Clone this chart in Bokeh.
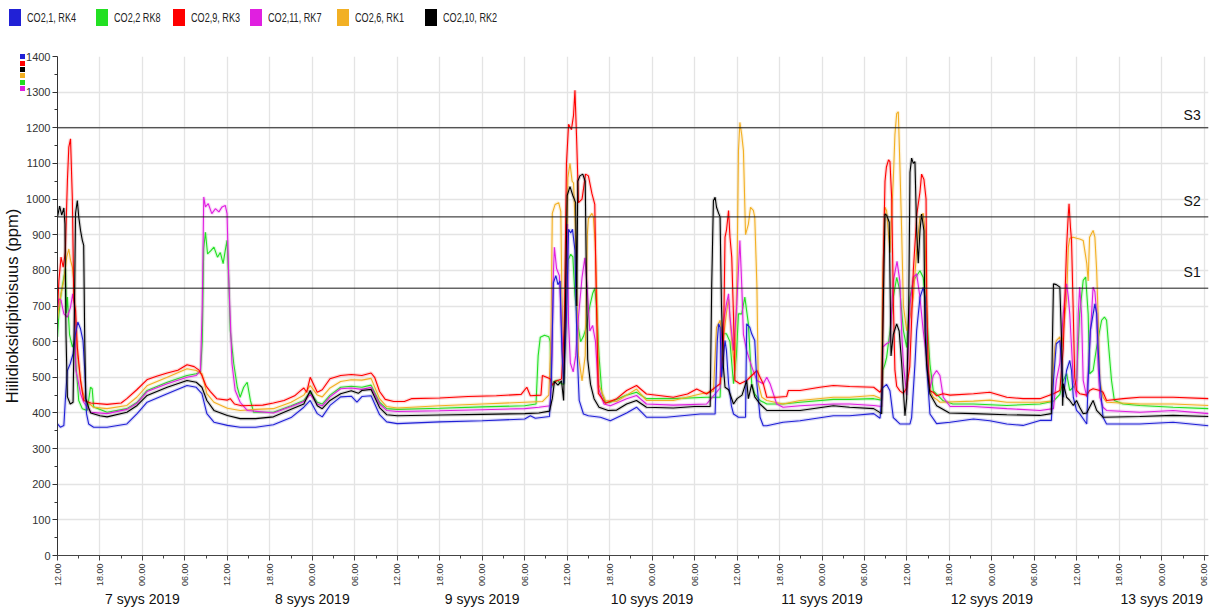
import math
from bokeh.plotting import figure
from bokeh.models import Range1d, FixedTicker, Span, Label, LinearAxis, Div
from bokeh.layouts import column
from bokeh.embed import file_html
from bokeh.resources import INLINE

# ---------------- data (hours from 7 Sep 2019 00:00, CO2 ppm) ----------------
series_names = ["CO2,1, RK4", "CO2,2 RK8", "CO2,9, RK3", "CO2,11, RK7", "CO2,6, RK1", "CO2,10, RK2"]
series_colors = ["#2121d6", "#22e022", "#ff0000", "#e01fe0", "#f2b024", "#000000"]

co2_1_rk4 = [(-12, 369), (-11.6, 360), (-11.1, 365), (-10.87, 444), (-10.6, 519), (-10.2, 538), (-9.8, 566), (-9.46, 622),
             (-9.13, 655), (-8.75, 636), (-8.4, 603), (-8.15, 520), (-7.9, 398), (-7.6, 369), (-6.9, 360), (-5, 360),
             (-2.2, 369), (-0.75, 398), (0.66, 430), (3.5, 454), (6.3, 477), (7.6, 472), (8.4, 454), (9.1, 398),
             (10.1, 374), (12, 365), (13.8, 360), (16, 360), (18.5, 367), (21, 387),
             (22.8, 416), (23.7, 435), (24.7, 398), (25.4, 389), (26.5, 421), (28, 445), (29.5, 447), (30.3, 430),
             (31, 446), (32.3, 448), (33.5, 395), (34.5, 375), (36, 370),
             (42, 375), (48, 378), (54, 383), (54.8, 392), (55.5, 385), (57.5, 390),
             (57.75, 480), (58.05, 765), (58.4, 785), (58.7, 760), (59.0, 770), (59.25, 575), (59.5, 482), (59.9, 670),
             (60.2, 915), (60.5, 905), (60.75, 915), (61.1, 856), (61.4, 575), (61.7, 435), (62.3, 397), (63, 392),
             (64.7, 388), (66.1, 378),
             (68.4, 400), (69.8, 416), (71.2, 388), (74, 388), (78.8, 397), (80.9, 397),
             (81.2, 600), (81.4, 650), (81.6, 640), (81.8, 500), (82.1, 560), (82.3, 603), (82.5, 575), (82.8, 482),
             (83.2, 420), (83.5, 397), (84.2, 388), (85.2, 388), (85.36, 650), (85.8, 640), (86.07, 622), (86.5, 603),
             (86.8, 482), (87.25, 388), (87.7, 364), (88.2, 364), (90.5, 374), (92.9, 378), (97.6, 392), (99.9, 392),
             (103.3, 398), (104.2, 385), (104.55, 470), (105.13, 480), (105.6, 462), (106.07, 387), (106.55, 378),
             (107.0, 369), (108.43, 369), (108.66, 387), (109.13, 537), (109.37, 631), (109.84, 724), (110.3, 752),
             (110.55, 724), (110.78, 537), (111.25, 397), (112.19, 370), (114.1, 374), (117.4, 383), (119.7, 378),
             (122.1, 369), (124.4, 365), (126.8, 379), (128.4, 379),
             (128.7, 491), (129.1, 594), (129.6, 603), (129.85, 538), (130.08, 444), (130.55, 519), (131.0, 547),
             (131.25, 519), (131.5, 444), (131.96, 407), (132.4, 398), (133.4, 369), (133.6, 491), (133.9, 631),
             (134.55, 706), (134.8, 678), (135.0, 585), (135.25, 491), (135.7, 388), (136.2, 369), (140.9, 369),
             (145.6, 374), (150.6, 364)]

co2_2_rk8 = [(-12, 613), (-11.8, 678), (-11.5, 734), (-11.1, 781), (-10.87, 805), (-10.75, 680), (-10.6, 725), (-10.3, 620),
             (-9.9, 585), (-9.6, 600), (-9.4, 538), (-9.0, 435), (-8.5, 412), (-7.8, 407), (-7.34, 472), (-7.1, 468),
             (-6.9, 417), (-5, 402),
             (-2.2, 412), (-0.75, 430), (0.66, 463), (3.5, 486), (6.3, 505), (7.6, 510), (8.2, 515), (8.45, 600),
             (8.65, 860), (8.9, 907), (9.2, 846), (9.7, 856), (10.1, 865), (10.6, 837), (11.0, 850), (11.4, 819),
             (11.7, 856), (11.95, 884), (12.2, 772), (12.4, 632), (12.9, 538), (13.4, 472), (13.8, 444), (14.3, 472),
             (14.8, 486), (15.25, 435), (15.7, 402), (18.5, 402), (21, 420),
             (22.8, 435), (23.7, 458), (24.7, 430), (25.4, 425), (26.5, 450), (28, 472), (29.5, 475), (31, 472),
             (32.3, 478), (33.5, 430), (34.5, 412), (36, 410),
             (42, 413), (48, 417), (54, 420), (55.6, 425),
             (55.9, 560), (56.2, 612), (56.8, 618), (57.4, 614), (57.6, 600), (57.75, 470), (58.1, 488), (58.6, 492),
             (59.0, 484), (59.5, 480), (59.8, 650), (60.15, 830), (60.5, 845), (60.8, 838), (61.1, 730), (61.5, 650),
             (61.9, 600), (62.3, 615), (62.7, 640), (63.2, 700), (63.6, 735), (63.9, 750), (64.15, 700), (64.5, 560),
             (64.9, 455), (65.4, 430), (66.1, 430),
             (68.4, 450), (69.8, 458), (71.2, 440), (75, 440), (79.7, 444),
             (81.6, 444), (81.9, 600), (82.07, 622), (82.5, 622), (83.0, 600), (83.5, 482), (83.9, 560), (84.2, 678),
             (84.66, 678), (85.1, 725), (85.6, 650), (86.07, 482), (86.5, 453), (87.25, 435), (88.2, 425), (90.5, 425),
             (92.9, 430), (97.6, 438), (99.9, 438),
             (103.3, 440), (104.43, 436), (104.6, 520), (104.9, 537), (105.13, 556), (105.6, 630), (106.07, 724),
             (106.55, 780), (107.0, 743), (107.5, 631), (107.96, 584), (108.43, 724), (108.9, 771), (109.84, 799),
             (110.3, 780), (110.78, 677), (111.25, 537), (111.72, 462), (113.13, 434), (114.5, 425), (117.4, 425),
             (122.1, 421), (126.8, 425),
             (128.7, 433), (129.6, 452), (130.08, 491), (130.55, 510), (131.0, 463), (131.5, 472), (131.96, 491),
             (132.4, 678), (132.9, 772), (133.25, 781), (133.6, 678), (133.8, 510), (134.3, 519), (134.8, 585),
             (135.5, 660), (135.9, 669), (136.2, 660), (136.5, 585), (136.9, 491), (137.3, 435), (138.55, 425),
             (140.9, 421), (145.6, 416), (150.6, 412)]

co2_9_rk3 = [(-12, 688), (-11.8, 772), (-11.5, 837), (-11.2, 809), (-10.9, 850), (-10.6, 1052), (-10.4, 1146),
             (-10.16, 1169), (-9.9, 1000), (-9.7, 716), (-9.45, 688), (-9.2, 585), (-8.75, 491), (-8.3, 435),
             (-7.3, 428), (-5, 424),
             (-3, 428), (-2.2, 440), (-0.8, 465), (0.7, 494), (2, 503), (3.5, 512), (5, 520), (6.3, 535), (7.3, 530),
             (8, 520), (8.4, 505), (9.0, 475), (9.6, 460), (10.5, 440), (12.0, 436), (12.4, 440), (13, 425), (14, 420),
             (17, 422), (18.5, 428), (20, 435), (21.5, 448),
             (22.3, 462), (22.8, 470), (23.2, 458), (23.7, 500), (24.7, 458), (25.4, 465), (26.5, 496), (28, 505),
             (29.5, 508), (31, 505), (32.3, 512), (32.8, 500), (33.5, 460), (34.3, 438), (35.5, 432), (37, 432),
             (38, 440),
             (42, 442), (46, 446), (50, 448), (53.5, 452), (54.3, 472), (54.8, 448), (56.3, 450),
             (56.5, 505), (57.6, 496), (57.9, 478), (58.3, 488), (59.2, 495), (59.6, 640), (59.9, 1100), (60.2, 1210),
             (60.6, 1195), (60.9, 1235), (61.1, 1305), (61.35, 1160), (61.6, 990), (62.1, 1000), (62.6, 1070),
             (63.0, 1065), (63.5, 1015), (63.9, 985), (64.1, 740), (64.4, 455), (65.4, 427), (67.0, 440),
             (68.4, 463), (69.8, 477), (71.2, 453), (75, 444), (77, 453), (78.3, 467), (79.7, 453),
             (81.6, 482), (82.07, 575), (82.3, 893), (82.5, 912), (82.8, 968), (83.0, 893), (83.25, 837), (83.5, 670),
             (83.7, 491), (84.4, 482), (85.36, 491), (86.8, 519), (87.25, 500), (87.7, 482), (88.2, 444), (89.6, 444),
             (91.0, 446), (91.25, 463), (92.9, 463), (95.7, 472), (97.6, 477), (99.9, 474),
             (103.3, 472), (104.2, 458), (104.5, 470), (104.66, 820), (104.9, 1050), (105.1, 1090), (105.4, 1110),
             (105.6, 1105), (105.85, 1000), (106.07, 720), (106.3, 520), (106.55, 475), (107.0, 462), (107.5, 455),
             (107.96, 470), (108.4, 530), (108.66, 660), (108.9, 800), (109.4, 958), (109.84, 1020), (110.07, 1070),
             (110.4, 1055), (110.7, 1000), (110.8, 720), (111.0, 520), (111.25, 462), (111.7, 458), (112.2, 448),
             (113.1, 454), (114.1, 450), (117.4, 454), (119.7, 458), (122.1, 444), (124.4, 440), (126.8, 440),
             (128.7, 454), (129.6, 463), (130.08, 580), (130.55, 865), (130.8, 959), (130.9, 987), (131.1, 920),
             (131.25, 884), (131.5, 678), (131.7, 500), (131.96, 463), (132.4, 454), (133.4, 450), (133.8, 463),
             (134.3, 468), (135.25, 463), (135.7, 458), (136.2, 435), (138.55, 440), (140.9, 444), (145.6, 444),
             (150.6, 440)]

co2_11_rk7 = [(-12, 697), (-11.8, 720), (-11.5, 716), (-11.1, 678), (-10.6, 669), (-10.16, 697), (-9.85, 734),
              (-9.6, 700), (-9.4, 519), (-9.1, 491), (-8.75, 454), (-8.3, 430), (-7.3, 402), (-5, 398),
              (-2.2, 410), (-0.75, 428), (0.66, 460), (3.5, 482), (6.3, 500), (7.6, 505), (8.2, 519), (8.45, 700),
              (8.66, 1006), (8.9, 978), (9.3, 987), (9.8, 959), (10.3, 973), (10.8, 964), (11.25, 978), (11.7, 982),
              (11.95, 959), (12.2, 772), (12.65, 538), (13.1, 463), (13.8, 430), (14.8, 407), (18.5, 400), (21, 418),
              (22.8, 432), (23.7, 452), (24.7, 425), (25.4, 420), (26.5, 445), (28, 468), (29.5, 470), (31, 466),
              (32.3, 472), (33.5, 425), (34.5, 407), (36, 404),
              (42, 406), (48, 409), (54, 412), (56, 416), (57.6, 420),
              (57.85, 560), (58.05, 790), (58.2, 865), (58.5, 805), (58.9, 785), (59.2, 640), (59.55, 520),
              (59.8, 700), (60.0, 930), (60.2, 650), (60.45, 540), (60.85, 515), (61.2, 560), (61.6, 670),
              (62.1, 780), (62.5, 835), (62.8, 760), (63.2, 630), (63.6, 645), (64.0, 600), (64.4, 470), (65.2, 425),
              (66.1, 420),
              (68.4, 440), (69.8, 449), (71.2, 425), (75, 422), (79.7, 425), (81.6, 470),
              (81.8, 622), (82.5, 706), (82.8, 734), (83.0, 670), (83.5, 575), (83.95, 700), (84.4, 884), (84.66, 760),
              (84.9, 620), (85.36, 575), (86.07, 530), (86.8, 491), (87.7, 482), (88.2, 500), (88.66, 482),
              (89.6, 425), (90.5, 416), (92.9, 420), (97.6, 425), (99.9, 425),
              (103.3, 421), (104.43, 418), (104.6, 585), (105.1, 594), (105.6, 600), (106.07, 770), (106.6, 825),
              (107.0, 770), (107.25, 630), (107.5, 537), (107.96, 450), (108.43, 705), (108.9, 780), (109.37, 790),
              (109.84, 724), (110.3, 630), (110.78, 556), (111.25, 470), (111.72, 505), (112.19, 519), (112.66, 505),
              (113.13, 444), (114.1, 418), (117.4, 418), (122.1, 412), (126.8, 407), (128.7, 412),
              (129.1, 491), (129.6, 540), (130.08, 678), (130.55, 762), (130.8, 725), (131.0, 678), (131.25, 585),
              (131.5, 491), (131.96, 444), (132.2, 678), (132.4, 753), (132.66, 678), (132.9, 491), (133.4, 444),
              (133.8, 585), (134.3, 753), (134.55, 740), (134.8, 678), (135.0, 538), (135.25, 444), (135.7, 416),
              (136.2, 407), (140.9, 402), (145.6, 407), (150.6, 398)]

co2_6_rk1 = [(-12, 664), (-11.8, 697), (-11.5, 734), (-11.1, 772), (-10.7, 837), (-10.4, 860), (-10.16, 828),
             (-9.9, 809), (-9.7, 772), (-9.45, 650), (-9.2, 566), (-8.85, 510), (-8.5, 463), (-8.05, 435),
             (-6.9, 416), (-5, 412),
             (-2.2, 421), (-0.8, 444), (0.7, 477), (3.5, 500), (6.3, 524), (7.6, 519), (8.4, 510), (9.1, 454),
             (10.1, 430), (12, 413), (13.8, 407), (16, 410), (18.5, 412), (21, 430),
             (22.8, 450), (23.7, 477), (24.7, 450), (25.4, 445), (26.5, 470), (28, 488), (29.5, 493), (31, 492),
             (32.3, 497), (33.5, 440), (34.5, 418), (36, 414),
             (42, 420), (48, 425), (54, 430), (56.5, 432), (57.4, 450),
             (57.7, 600), (57.9, 960), (58.3, 985), (58.8, 990), (59.1, 965), (59.25, 740), (59.55, 510), (59.8, 700),
             (60.1, 1060), (60.4, 1100), (60.7, 1050), (60.9, 1045), (61.15, 920), (61.6, 560), (62.1, 490),
             (62.55, 560), (62.85, 900), (63.0, 945), (63.5, 960), (63.7, 950), (63.95, 880), (64.2, 720),
             (64.45, 480), (65.4, 435), (67, 432),
             (68.4, 450), (69.8, 467), (71.2, 435), (75, 435), (78.8, 453), (80.66, 460),
             (81.1, 640), (81.6, 660), (82.0, 600), (82.5, 680), (82.8, 720), (83.25, 600), (83.7, 520), (84.0, 800),
             (84.2, 1136), (84.4, 1215), (84.66, 1180), (84.9, 1136), (85.2, 900), (85.6, 930), (85.9, 977),
             (86.3, 968), (86.5, 949), (86.8, 760), (87.0, 482), (87.5, 444), (88.2, 435), (90.5, 425), (92.9, 435),
             (97.6, 444), (99.9, 444),
             (103.3, 449), (104.4, 440), (104.57, 770), (104.9, 977), (105.13, 967), (105.6, 850), (105.84, 960),
             (106.07, 1052), (106.3, 1180), (106.55, 1240), (106.78, 1245), (107.0, 1098), (107.25, 911),
             (107.5, 700), (107.96, 631), (108.43, 668), (108.9, 724), (109.37, 855), (109.84, 950), (110.3, 960),
             (110.55, 911), (110.78, 700), (111.0, 540), (111.25, 463), (111.72, 444), (112.2, 438), (112.67, 430),
             (117.4, 433), (119.7, 436), (122.1, 430), (126.8, 430), (128.4, 433),
             (128.9, 585), (129.1, 603), (129.6, 613), (129.85, 585), (130.08, 630), (130.55, 720), (130.8, 865),
             (131.0, 890), (131.5, 893), (131.96, 890), (132.4, 888), (132.9, 884), (133.4, 820), (133.6, 770),
             (133.8, 893), (134.3, 912), (134.55, 893), (134.8, 800), (135.0, 678), (135.25, 491), (135.7, 444),
             (136.2, 430), (140.9, 425), (145.6, 425), (150.6, 421)]

co2_10_rk2 = [(-12, 950), (-11.7, 980), (-11.4, 955), (-11.1, 975), (-10.95, 930), (-10.8, 620), (-10.6, 445),
              (-10.2, 425), (-9.8, 430), (-9.6, 700), (-9.45, 960), (-9.2, 996), (-9.0, 950), (-8.75, 912),
              (-8.5, 885), (-8.3, 870), (-8.15, 600), (-8.0, 440), (-7.6, 415), (-7.3, 400), (-6, 392), (-5, 389),
              (-2.2, 402), (-0.75, 421), (0.66, 449), (3.5, 472), (6.3, 491), (7.6, 486), (8.4, 472), (9.1, 435),
              (10.1, 407), (12, 393), (13.8, 384), (16, 384), (18.5, 389), (21, 410),
              (22.8, 425), (23.7, 463), (24.7, 420), (25.4, 412), (26.5, 435), (28, 454), (29.5, 462), (30.5, 455),
              (31, 463), (32.3, 466), (33.5, 415), (34.5, 395), (36, 392),
              (42, 394), (48, 396), (54, 398), (56, 400), (57.5, 405),
              (57.9, 440), (58.2, 488), (58.7, 478), (59.2, 490), (59.5, 435), (59.75, 700), (60.0, 1010),
              (60.4, 1035), (60.8, 1010), (61.2, 990), (61.35, 700), (61.5, 1050), (61.8, 1065), (62.2, 1070),
              (62.55, 1050), (62.7, 800), (62.9, 550), (63.3, 480), (63.8, 440), (64.5, 416), (65.8, 407), (67, 408),
              (68.4, 425), (69.8, 435), (71.2, 416), (75, 414), (78, 418), (80.2, 418),
              (80.42, 760), (80.66, 995), (80.9, 1005), (81.1, 977), (81.4, 960), (81.6, 950), (81.8, 700),
              (82.07, 530), (82.3, 472), (82.8, 465), (83.5, 425), (84.0, 440), (84.7, 450), (85.36, 491),
              (85.6, 440), (86.07, 480), (86.5, 445), (87.25, 425), (88.2, 407), (92.9, 407), (97.6, 420), (99.9, 416),
              (103.3, 412), (104.43, 398), (104.57, 603), (104.75, 800), (104.9, 958), (105.13, 955), (105.5, 935),
              (105.75, 560), (106.07, 620), (106.55, 650), (106.9, 630), (107.25, 540), (107.72, 392), (107.96, 440),
              (108.25, 700), (108.43, 1075), (108.66, 1115), (108.9, 1100), (109.13, 1105), (109.37, 911),
              (109.6, 820), (109.84, 911), (110.07, 958), (110.4, 911), (110.55, 630), (110.78, 537), (111.25, 453),
              (112.2, 420), (114, 400), (117.4, 398), (122.1, 395), (126.8, 393), (128.4, 398),
              (128.55, 600), (128.7, 762), (129.1, 760), (129.6, 753), (129.85, 600), (130.0, 420), (130.1, 482),
              (130.55, 444), (131.0, 435), (131.5, 421), (131.96, 435), (132.4, 416), (132.9, 398), (133.4, 400),
              (133.8, 416), (134.3, 435), (134.8, 407), (135.7, 388), (140.9, 390), (145.6, 393), (150.6, 390)]

series_data = [co2_1_rk4, co2_2_rk8, co2_9_rk3, co2_11_rk7, co2_6_rk1, co2_10_rk2]
draw_order = [1, 4, 3, 2, 0, 5]

thresholds = [750, 950, 1200]
threshold_names = ["S1", "S2", "S3"]

hour_ticks = list(range(-12, 151, 6))
hour_cycle = ["12.00", "18.00", "00.00", "06.00"]
hour_labels = [hour_cycle[i % 4] for i in range(len(hour_ticks))]
date_ticks = [0, 24, 48, 72, 96, 120, 144]
date_labels = ["7 syys 2019", "8 syys 2019", "9 syys 2019", "10 syys 2019",
               "11 syys 2019", "12 syys 2019", "13 syys 2019"]
y_ticks = list(range(0, 1401, 100))
y_minor = list(range(50, 1400, 100))

# order of the small colour keys at the top of the value axis
axis_key_order = [0, 2, 5, 4, 1, 3]

FONT = "Liberation Sans"

# ---------------- legend strip (HTML) ----------------
legend_left = [9, 96, 173, 250, 337, 425]
parts = []
for x0, name, col in zip(legend_left, series_names, series_colors):
    parts.append('<span style="position:absolute;left:%dpx;top:9px;width:12px;height:17px;background:%s;"></span>'
                 % (x0, col))
    parts.append('<span style="position:absolute;left:%dpx;top:9px;font-family:\'Liberation Sans\',Arial,sans-serif;'
                 'font-size:13px;line-height:17px;color:#222;white-space:nowrap;transform:scaleX(0.7);'
                 'transform-origin:0 0;">%s</span>' % (x0 + 18, name))
key_top = [54, 61, 67, 73, 80, 86]
for k, top in zip(axis_key_order, key_top):
    parts.append('<span style="position:absolute;left:20px;top:%dpx;width:5px;height:5px;background:%s;"></span>'
                 % (top, series_colors[k]))
legend_div = Div(text='<div style="position:relative;width:1218px;height:40px;overflow:visible;">'
                      + "".join(parts) + "</div>",
                 width=1218, height=40, margin=0,
                 styles={"overflow": "visible", "position": "relative", "z-index": "10"})

# ---------------- main chart ----------------
p = figure(width=1218, height=570, x_range=Range1d(-12, 150.6), y_range=Range1d(0, 1400),
           output_backend="svg", toolbar_location=None, margin=0,
           min_border_left=56, min_border_right=10, min_border_top=16, min_border_bottom=55)
p.outline_line_color = None
p.background_fill_color = "white"
p.border_fill_color = None

xt = FixedTicker(ticks=hour_ticks, minor_ticks=[t + 3 for t in hour_ticks[:-1]])
yt = FixedTicker(ticks=y_ticks, minor_ticks=y_minor)
p.xgrid.ticker = xt
p.ygrid.ticker = yt
p.grid.grid_line_color = "#e4e4e4"
p.grid.grid_line_width = 1.3

xax = p.xaxis[0]
xax.ticker = xt
xax.major_label_overrides = {t: lab for t, lab in zip(hour_ticks, hour_labels)}
xax.major_label_orientation = math.pi / 2
xax.major_label_text_font = FONT
xax.major_label_text_font_size = "9px"
xax.major_label_text_color = "#333333"
xax.major_label_standoff = 3
xax.major_tick_out = 5
xax.major_tick_in = 0
xax.minor_tick_out = 3
xax.minor_tick_in = 0
xax.axis_line_color = "#444444"
xax.major_tick_line_color = "#444444"
xax.minor_tick_line_color = "#444444"

yax = p.yaxis[0]
yax.ticker = yt
yax.axis_label = "Hiilidioksidipitoisuus (ppm)"
yax.axis_label_text_font = FONT
yax.axis_label_text_font_size = "16.5px"
yax.axis_label_text_font_style = "normal"
yax.axis_label_text_color = "#111111"
yax.axis_label_standoff = 2
yax.major_label_text_font = FONT
yax.major_label_text_font_size = "11px"
yax.major_label_text_color = "#333333"
yax.major_label_standoff = 2
yax.major_tick_out = 5
yax.major_tick_in = 0
yax.minor_tick_out = 3
yax.minor_tick_in = 0
yax.axis_line_color = "#333333"
yax.major_tick_line_color = "#333333"
yax.minor_tick_line_color = "#333333"

dax = LinearAxis(ticker=FixedTicker(ticks=date_ticks),
                 major_label_overrides={t: lab for t, lab in zip(date_ticks, date_labels)},
                 major_tick_line_color=None, minor_tick_line_color=None, axis_line_color=None,
                 major_tick_out=0, major_tick_in=0, minor_tick_out=0, minor_tick_in=0,
                 major_label_standoff=1, major_label_text_font=FONT,
                 major_label_text_font_size="14px", major_label_text_color="#111111")
p.add_layout(dax, "below")

for thr, name, off in zip(thresholds, threshold_names, [8, 8, 5]):
    p.add_layout(Span(location=thr, dimension="width", line_color="#1a1a1a", line_width=1))
    p.add_layout(Label(x=149.5, y=thr, text=name, text_align="right", text_baseline="bottom",
                       y_offset=off, text_font=FONT, text_font_size="14px", text_color="#111111"))

for i in draw_order:
    ts = [a for a, b in series_data[i]]
    vs = [b for a, b in series_data[i]]
    p.line(ts, vs, line_color=series_colors[i], line_width=3.5, line_alpha=0.16)
    p.line(ts, vs, line_color=series_colors[i], line_width=1.1)

layout = column(legend_div, p, margin=0, spacing=0)
open("out.html", "w").write(file_html(layout, INLINE))
